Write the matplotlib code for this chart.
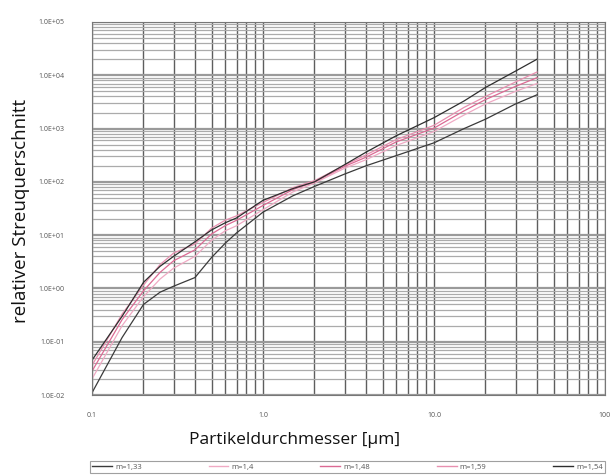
import matplotlib
matplotlib.use("Agg")
import matplotlib.pyplot as plt
from matplotlib.ticker import LogLocator, FixedLocator, FixedFormatter, NullFormatter
from matplotlib.lines import Line2D

# particle diameter [µm]
diameter = [0.1, 0.15, 0.2, 0.25, 0.3, 0.4, 0.5, 0.6, 0.7, 1.0, 1.5, 2.0, 3.0, 4.0, 6.0, 10.0, 15.0, 20.0, 30.0, 40.0]

# relative scattering cross section for each refractive index
m_133 = [0.011, 0.12, 0.5, 0.85, 1.1, 1.6, 3.8, 7.0, 11, 27, 55, 82, 140, 200, 310, 540, 1000, 1500, 2900, 4300]
m_140 = [0.02, 0.2, 0.7, 1.5, 2.4, 4.0, 8.0, 12, 15, 30, 65, 95, 180, 260, 480, 880, 1800, 2900, 5000, 7000]
m_148 = [0.028, 0.26, 0.9, 2.0, 3.3, 5.3, 10.5, 15, 19, 36, 72, 100, 195, 290, 560, 1020, 2150, 3500, 6200, 9000]
m_159 = [0.036, 0.33, 1.15, 2.8, 4.6, 6.8, 13.5, 19, 23, 41, 78, 105, 205, 320, 620, 1150, 2500, 4000, 7500, 11500]
m_154 = [0.045, 0.3, 1.3, 2.6, 4.0, 7.5, 12.5, 17, 21, 45, 75, 100, 210, 360, 730, 1600, 3300, 5900, 12000, 20000]

series_labels = ["m=1,33", "m=1,4", "m=1,48", "m=1,59", "m=1,54"]
series_values = [m_133, m_140, m_148, m_159, m_154]
series_colors = ["#3a3a3a", "#f0aac4", "#dc6a94", "#e890b0", "#2e2e2e"]

x_ticks = [0.1, 1.0, 10.0, 100.0]
x_tick_labels = ["0.1", "1.0", "10.0", "100"]
y_ticks = [1e-2, 1e-1, 1e0, 1e1, 1e2, 1e3, 1e4, 1e5]
y_tick_labels = ["1.0E-02", "1.0E-01", "1.0E+00", "1.0E+01", "1.0E+02", "1.0E+03", "1.0E+04", "1.0E+05"]

plt.rcParams["font.family"] = ["Open Sans", "DejaVu Sans"]

fig = plt.figure(figsize=(6.10, 4.75), dpi=100)
ax = fig.add_axes([92 / 610, 1 - 395 / 475, (605 - 92) / 610, (395 - 22) / 475])

ax.set_xscale("log")
ax.set_yscale("log")
ax.set_xlim(0.1, 100)
ax.set_ylim(1e-2, 1e5)

# dense log grid on both axes
ax.xaxis.set_major_locator(FixedLocator(x_ticks))
ax.xaxis.set_major_formatter(FixedFormatter(x_tick_labels))
ax.xaxis.set_minor_locator(LogLocator(base=10, subs=range(2, 10), numticks=20))
ax.xaxis.set_minor_formatter(NullFormatter())
ax.yaxis.set_major_locator(FixedLocator(y_ticks))
ax.yaxis.set_major_formatter(FixedFormatter(y_tick_labels))
ax.yaxis.set_minor_locator(LogLocator(base=10, subs=range(2, 10), numticks=20))
ax.yaxis.set_minor_formatter(NullFormatter())

ax.grid(True, axis="x", which="both", color="#5e5e5e", linewidth=1.0)
ax.grid(True, axis="y", which="major", color="#9a9a9a", linewidth=1.6)
ax.grid(True, axis="y", which="minor", color="#ababab", linewidth=0.9)
ax.set_axisbelow(True)

ax.tick_params(axis="both", which="both", length=0)
ax.tick_params(axis="y", which="major", pad=20, labelsize=5, labelcolor="#555555")
ax.tick_params(axis="x", which="major", pad=12, labelsize=5, labelcolor="#555555")

for s in ax.spines.values():
    s.set_color("#777777")
    s.set_linewidth(0.8)

for vals, col, lab in zip(series_values, series_colors, series_labels):
    ax.plot(diameter, vals, color=col, linewidth=0.9, label=lab)

fig.text(21 / 610, 1 - 211 / 475, "relativer Streuquerschnitt", rotation=90,
         ha="center", va="center", fontsize=13.5, color="#111111")
fig.text(295 / 610, 1 - 440 / 475, "Partikeldurchmesser [µm]",
         ha="center", va="center", fontsize=12.5, color="#111111")

handles = [Line2D([], [], color=c, linewidth=1.0) for c in series_colors]
leg = fig.legend(handles, series_labels, loc="lower left",
                 bbox_to_anchor=(90 / 610, 1 - 473 / 475, (605 - 90) / 610, 16 / 475),
                 mode="expand", ncol=5, fontsize=5.5, frameon=True, fancybox=False,
                 handlelength=2.6, handletextpad=0.4, borderpad=0.3, borderaxespad=0)
leg.get_frame().set_edgecolor("#888888")
leg.get_frame().set_linewidth(0.8)
for t in leg.get_texts():
    t.set_color("#555555")

fig.savefig("out.png", dpi=100)
